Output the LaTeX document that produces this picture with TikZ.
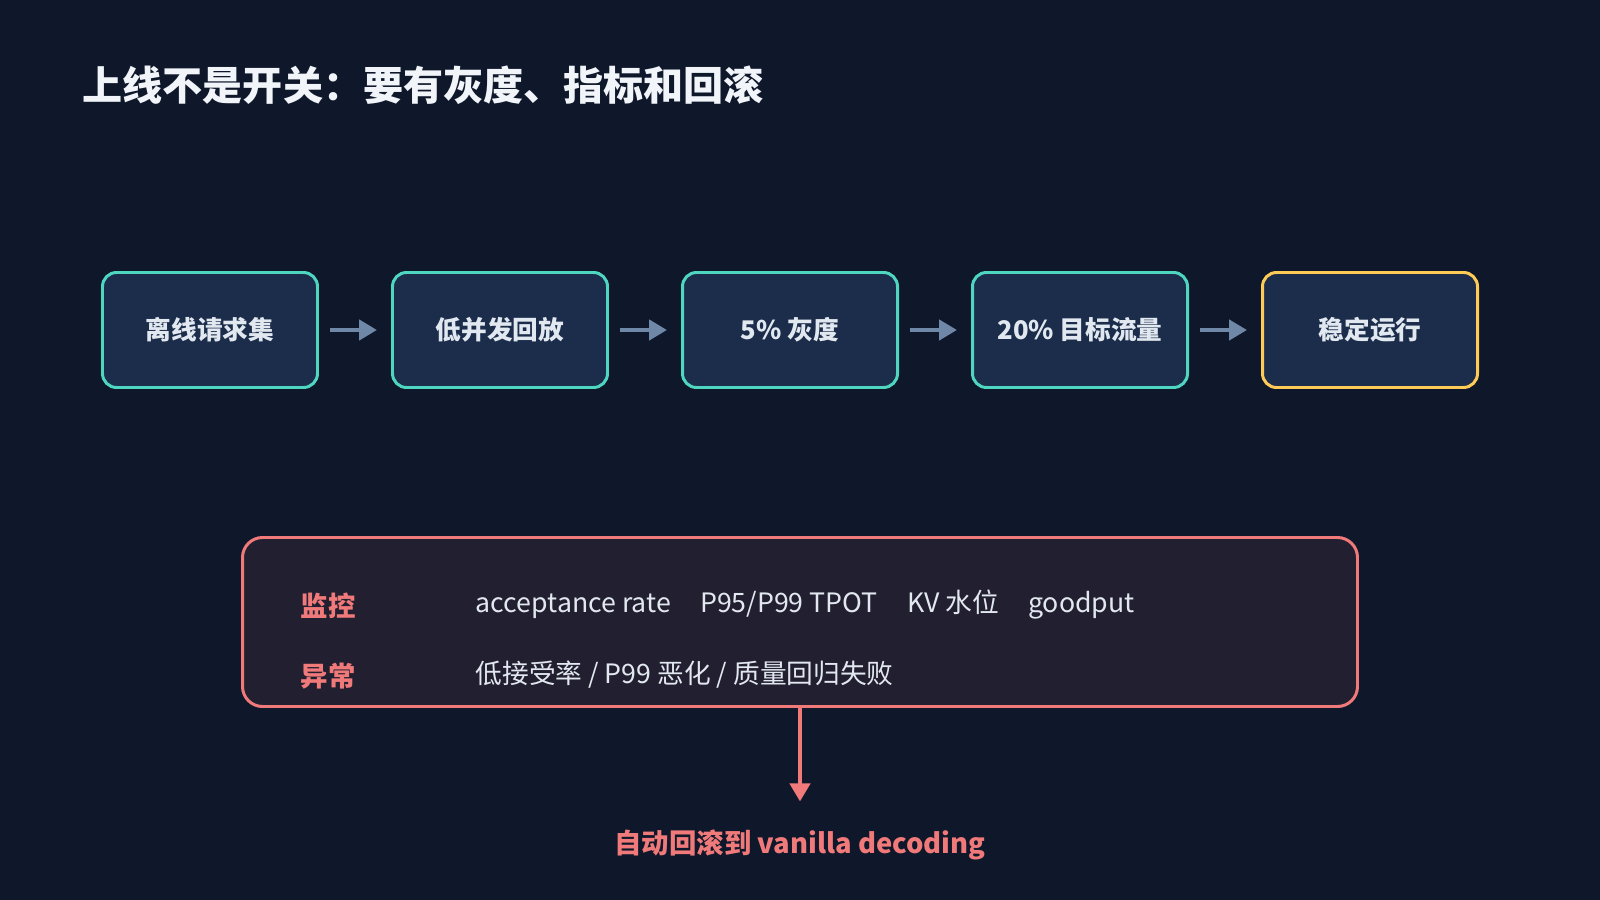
\documentclass[tikz,border=0pt]{standalone}
\usepackage{fontspec}
\setmainfont{Noto Sans CJK SC}
\usetikzlibrary{positioning,arrows.meta}

\definecolor{bgnavy}{HTML}{0F172A}
\definecolor{stagefill}{HTML}{1B2D4B}
\definecolor{stageteal}{HTML}{4FD6C1}
\definecolor{stagegold}{HTML}{FFCB57}
\definecolor{flowgrey}{HTML}{7088A8}
\definecolor{alertfill}{HTML}{221F30}
\definecolor{alertred}{HTML}{F07A7A}
\definecolor{titlewhite}{HTML}{F1F5F9}
\definecolor{bodytext}{HTML}{E2E8F0}

\begin{document}
\begin{tikzpicture}[x=0.1mm,y=-0.1mm,
  stage/.style={draw=stageteal, line width=0.85pt, fill=stagefill, rounded corners=1.4mm,
    minimum width=21.5mm, minimum height=11.5mm, text=bodytext,
    font=\fontsize{7.3}{8}\selectfont\bfseries},
  flow/.style={draw=flowgrey, line width=1.4pt, -{Triangle[length=1.8mm,width=2mm]},
    shorten <=1.1mm, shorten >=1.4mm},
  rowlabel/.style={anchor=west, inner sep=0pt, text=alertred, font=\fontsize{7.8}{8}\selectfont\bfseries},
  rowtext/.style={anchor=west, inner sep=0pt, text=bodytext, font=\fontsize{7.6}{8}\selectfont}]

  % Set background and title
  \fill[bgnavy] (0,0) rectangle (1600,900);
  \useasboundingbox (0,0) rectangle (1600,900);
  \node[anchor=west, inner sep=0pt, text=titlewhite, font=\fontsize{11.4}{13}\selectfont\bfseries] (title) at (82,85)
    {上线不是开关：要有灰度、指标和回滚};

  % Set rollout stages
  \node[stage] (offline) at (210,330) {离线请求集};
  \node[stage] (replay) at (500,330) {低并发回放};
  \node[stage] (canary) at (790,330) {5\% 灰度};
  \node[stage] (partial) at (1080,330) {20\% 目标流量};
  \node[stage, draw=stagegold] (stable) at (1370,330) {稳定运行};
  \draw[flow] (offline) -- (replay);
  \draw[flow] (replay) -- (canary);
  \draw[flow] (canary) -- (partial);
  \draw[flow] (partial) -- (stable);

  % Set monitor box and rollback
  \node[draw=alertred, line width=0.85pt, fill=alertfill, rounded corners=2mm,
    minimum width=111.5mm, minimum height=16.9mm] (alert) at (800,622) {};
  \node[rowlabel] (monitor) at (300,606) {监控};
  \node[rowtext] (metrics) at (475,605)
    {acceptance rate\hspace{1.1em}P95/P99 TPOT\hspace{1.1em}KV 水位\hspace{1.1em}goodput};
  \node[rowlabel] (anomaly) at (300,676) {异常};
  \node[rowtext] (signals) at (475,675) {低接受率 / P99 恶化 / 质量回归失败};
  \node[text=alertred, font=\fontsize{7.8}{8}\selectfont\bfseries] (fallback) at (800,845)
    {自动回滚到 vanilla decoding};
  \draw[draw=alertred, line width=1.2pt, -{Triangle[length=1.8mm,width=2mm]},
    shorten >=1.6mm] (alert.south) -- (fallback.north);
\end{tikzpicture}
\end{document}
